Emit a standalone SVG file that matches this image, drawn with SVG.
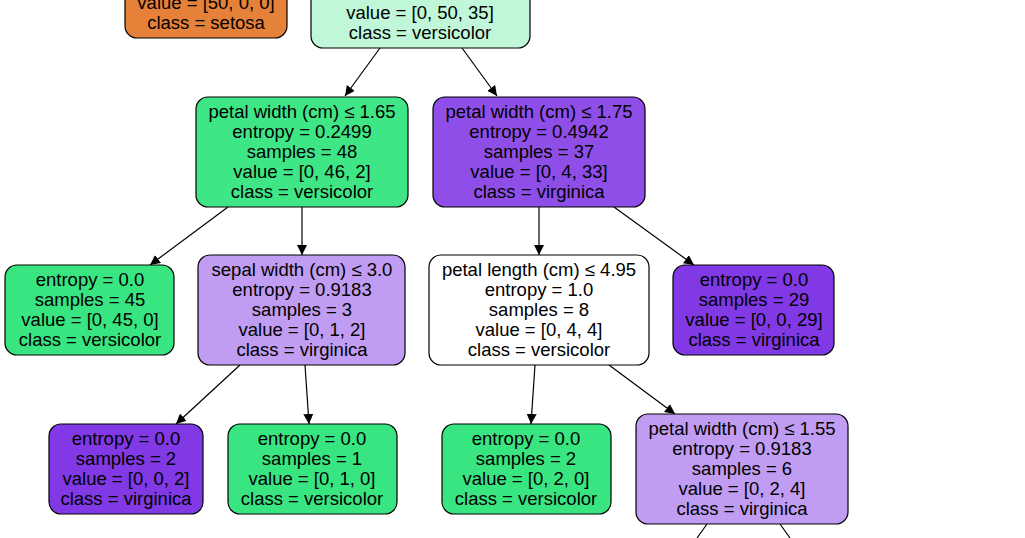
<svg xmlns="http://www.w3.org/2000/svg" width="1025" height="538" viewBox="0 0 1025 538">
<style>
.n{stroke:#000;stroke-width:1.2}
text{font-family:"Liberation Sans",Arial,sans-serif;font-size:18.5px;text-anchor:middle;fill:#000}
.e{stroke:#000;stroke-width:1.2;fill:none;marker-end:url(#a)}
</style>
<defs><marker id="a" viewBox="0 0 10 10" refX="10" refY="5" markerWidth="10" markerHeight="10" markerUnits="userSpaceOnUse" orient="auto"><path d="M0,0L10,5L0,10z"/></marker></defs>
<rect width="1025" height="538" fill="#fff"/>
<g id="edges">
<path class="e" d="M380,48L345,96"/>
<path class="e" d="M462,48L497,96"/>
<path class="e" d="M228,207L150,265"/>
<path class="e" d="M302,207L302,255"/>
<path class="e" d="M539,207L539,255"/>
<path class="e" d="M614,207L694,265"/>
<path class="e" d="M240,365L176,424"/>
<path class="e" d="M305,365L309,424"/>
<path class="e" d="M535,365L531,424"/>
<path class="e" d="M609,365L675,414"/>
<path d="M707,524L697,538M780,524L790,538" stroke="#000" stroke-width="1.2"/>
</g>
<g id="setosa"><rect class="n" x="125" y="-60" width="162" height="98" rx="12" fill="#e58139"/><text x="206" y="9">value = [50, 0, 0]</text><text x="206" y="29">class = setosa</text></g>
<g id="root"><rect class="n" x="311" y="-60" width="219" height="108" rx="12" fill="#c0f7d8"/><text x="420" y="19">value = [0, 50, 35]</text><text x="420" y="39">class = versicolor</text></g>
<g id="n1"><rect class="n" x="196" y="97" width="212" height="110" rx="12" fill="#3fe686"/><text x="302" y="118">petal width (cm) ≤ 1.65</text><text x="302" y="138">entropy = 0.2499</text><text x="302" y="158">samples = 48</text><text x="302" y="178">value = [0, 46, 2]</text><text x="302" y="198">class = versicolor</text></g>
<g id="n2"><rect class="n" x="433" y="97" width="212" height="110" rx="12" fill="#8f4ee8"/><text x="539" y="118">petal width (cm) ≤ 1.75</text><text x="539" y="138">entropy = 0.4942</text><text x="539" y="158">samples = 37</text><text x="539" y="178">value = [0, 4, 33]</text><text x="539" y="198">class = virginica</text></g>
<g id="n3"><rect class="n" x="5" y="265" width="169" height="90" rx="12" fill="#39e581"/><text x="90" y="286">entropy = 0.0</text><text x="90" y="306">samples = 45</text><text x="90" y="326">value = [0, 45, 0]</text><text x="90" y="346">class = versicolor</text></g>
<g id="n4"><rect class="n" x="198" y="255" width="207" height="110" rx="12" fill="#c09cf2"/><text x="302" y="276">sepal width (cm) ≤ 3.0</text><text x="302" y="296">entropy = 0.9183</text><text x="302" y="316">samples = 3</text><text x="302" y="336">value = [0, 1, 2]</text><text x="302" y="356">class = virginica</text></g>
<g id="n5"><rect class="n" x="429" y="255" width="220" height="110" rx="12" fill="#ffffff"/><text x="539" y="276">petal length (cm) ≤ 4.95</text><text x="539" y="296">entropy = 1.0</text><text x="539" y="316">samples = 8</text><text x="539" y="336">value = [0, 4, 4]</text><text x="539" y="356">class = versicolor</text></g>
<g id="n6"><rect class="n" x="673" y="265" width="161" height="90" rx="12" fill="#8139e5"/><text x="754" y="286">entropy = 0.0</text><text x="754" y="306">samples = 29</text><text x="754" y="326">value = [0, 0, 29]</text><text x="754" y="346">class = virginica</text></g>
<g id="n7"><rect class="n" x="49" y="424" width="154" height="90" rx="12" fill="#8139e5"/><text x="126" y="445">entropy = 0.0</text><text x="126" y="465">samples = 2</text><text x="126" y="485">value = [0, 0, 2]</text><text x="126" y="505">class = virginica</text></g>
<g id="n8"><rect class="n" x="228" y="424" width="169" height="90" rx="12" fill="#39e581"/><text x="312" y="445">entropy = 0.0</text><text x="312" y="465">samples = 1</text><text x="312" y="485">value = [0, 1, 0]</text><text x="312" y="505">class = versicolor</text></g>
<g id="n9"><rect class="n" x="442" y="424" width="169" height="90" rx="12" fill="#39e581"/><text x="526" y="445">entropy = 0.0</text><text x="526" y="465">samples = 2</text><text x="526" y="485">value = [0, 2, 0]</text><text x="526" y="505">class = versicolor</text></g>
<g id="n10"><rect class="n" x="636" y="414" width="212" height="110" rx="12" fill="#c09cf2"/><text x="742" y="435">petal width (cm) ≤ 1.55</text><text x="742" y="455">entropy = 0.9183</text><text x="742" y="475">samples = 6</text><text x="742" y="495">value = [0, 2, 4]</text><text x="742" y="515">class = virginica</text></g>
</svg>
